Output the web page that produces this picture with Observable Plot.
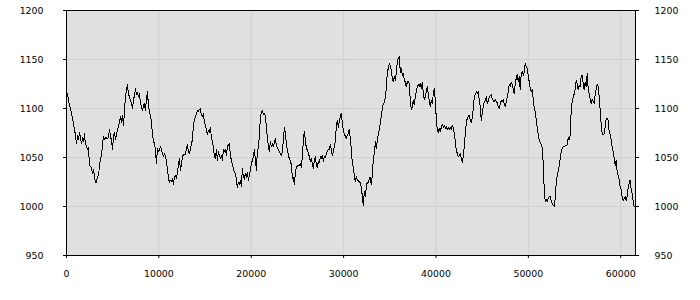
<!DOCTYPE html>
<html><head><meta charset="utf-8">
<script src="https://cdn.jsdelivr.net/npm/d3@7"></script>
<script src="https://cdn.jsdelivr.net/npm/@observablehq/plot@0.6"></script>
<style>body{margin:0;background:#fff}</style>
</head><body><div id="chart"></div>
<script>
// sampling interval of the series (x units per sample)
const sampleInterval = 108.2;
const values = [
1113,1115,1108,1104,1100,1095,1090,1085,1078,1073,
1064,1072,1068,1076,1070,1064,1070,1066,1074,1063,
1062,1058,1060,1042,1041,1039,1034,1038,1030,1024,
1025,1030,1032,1041,1050,1051,1064,1071,1068,1070,
1070,1069,1071,1079,1071,1068,1058,1071,1076,1068,
1073,1078,1082,1086,1092,1086,1093,1083,1097,1112,
1119,1124,1115,1112,1108,1105,1100,1108,1114,1120,
1114,1116,1112,1115,1105,1102,1098,1103,1105,1098,
1110,1117,1103,1097,1093,1086,1074,1066,1065,1058,
1044,1059,1056,1058,1061,1058,1054,1051,1054,1052,
1046,1037,1030,1024,1027,1025,1029,1022,1030,1032,
1029,1035,1042,1049,1037,1042,1051,1053,1053,1053,
1059,1063,1056,1054,1059,1064,1068,1083,1088,1092,
1095,1098,1097,1099,1100,1093,1092,1095,1086,1083,
1078,1073,1078,1075,1081,1070,1066,1061,1051,1049,
1058,1047,1056,1052,1049,1052,1047,1058,1056,1058,
1052,1061,1063,1064,1052,1047,1042,1039,1035,1034,
1027,1019,1025,1022,1027,1020,1039,1030,1028,1034,
1030,1035,1027,1032,1037,1044,1047,1051,1058,1047,
1037,1058,1059,1074,1090,1097,1098,1094,1095,1093,
1080,1070,1061,1056,1066,1061,1064,1061,1066,1069,
1063,1059,1058,1056,1054,1052,1056,1068,1081,1074,
1064,1058,1052,1049,1047,1042,1029,1030,1022,1034,
1040,1041,1042,1042,1044,1040,1051,1068,1077,1068,
1059,1058,1054,1051,1046,1049,1044,1039,1047,1051,
1042,1040,1046,1045,1051,1049,1052,1046,1051,1050,
1054,1056,1058,1058,1063,1058,1052,1056,1061,1066,
1083,1088,1081,1088,1092,1095,1085,1078,1073,1072,
1069,1073,1075,1079,1069,1058,1044,1040,1032,1025,
1031,1027,1026,1025,1024,1020,1010,1001,1015,1010,
1020,1025,1024,1029,1030,1022,1032,1049,1054,1066,
1059,1068,1074,1078,1086,1092,1100,1105,1106,1112,
1120,1137,1141,1146,1144,1139,1131,1127,1133,1129,
1136,1148,1152,1153,1137,1141,1134,1136,1129,1127,
1122,1127,1128,1125,1108,1099,1102,1108,1104,1112,
1117,1122,1125,1122,1126,1120,1127,1115,1109,1112,
1117,1122,1115,1108,1102,1108,1105,1115,1120,1108,
1090,1078,1075,1080,1076,1081,1084,1081,1083,1080,
1082,1078,1081,1078,1081,1078,1083,1080,1075,1066,
1058,1054,1051,1052,1054,1049,1045,1051,1061,1074,
1085,1090,1092,1093,1088,1086,1090,1100,1112,1114,
1117,1115,1117,1108,1102,1088,1095,1102,1107,1108,
1112,1105,1108,1112,1113,1114,1110,1108,1107,1109,
1107,1106,1102,1100,1105,1108,1107,1109,1105,1102,
1107,1112,1117,1125,1122,1127,1124,1120,1115,1125,
1131,1135,1127,1133,1119,1136,1138,1134,1137,1146,
1143,1141,1134,1127,1120,1117,1119,1110,1100,1097,
1088,1080,1073,1068,1065,1063,1060,1044,1017,1005,
1007,1005,1008,1010,1010,1006,1003,1001,1000,1008,
1024,1032,1036,1042,1049,1056,1059,1061,1061,1062,
1062,1063,1070,1068,1073,1098,1107,1112,1115,1120,
1129,1125,1119,1124,1122,1133,1134,1125,1119,1127,
1122,1136,1120,1115,1110,1105,1109,1107,1105,1115,
1120,1125,1122,1112,1098,1083,1074,1073,1074,1081,
1090,1090,1088,1076,1073,1068,1060,1056,1049,1042,
1047,1035,1032,1027,1020,1017,1010,1006,1008,1010,
1006,1010,1020,1024,1027,1017,1013,1005,1000
];
const xTicks = [0, 10000, 20000, 30000, 40000, 50000, 60000];
const yTicks = [950, 1000, 1050, 1100, 1150, 1200];
const xDomain = [0, 61600];
const yDomain = [950, 1200];

const data = values.map((v, i) => ({t: i * sampleInterval, v}));
const fmt = d3.format("d");

const chart = Plot.plot({
  width: 700, height: 300,
  marginLeft: 66, marginRight: 65, marginTop: 10, marginBottom: 45,
  style: {fontFamily: "DejaVu Sans", fontSize: "9.4px", color: "#000", background: "#fff"},
  x: {domain: xDomain},
  y: {domain: yDomain},
  marks: [
    Plot.frame({fill: "#e0e0e0"}),
    Plot.gridX(xTicks, {stroke: "#d0d0d0", strokeOpacity: 1}),
    Plot.gridY(yTicks, {stroke: "#d0d0d0", strokeOpacity: 1}),
    Plot.line(data, {x: "t", y: "v", stroke: "#000", strokeWidth: 1, shapeRendering: "crispEdges"}),
    Plot.frame({stroke: "#000", strokeWidth: 1}),
    Plot.axisY(yTicks, {anchor: "left", tickSize: 3, tickPadding: 20, label: null, tickFormat: fmt, fill: "#000"}),
    Plot.axisY(yTicks, {anchor: "right", tickSize: 3, tickPadding: 16, label: null, tickFormat: fmt, fill: "#000"}),
    Plot.axisX(xTicks, {anchor: "bottom", tickSize: 3, tickPadding: 12, label: null, tickFormat: fmt, fill: "#000"})
  ]
});
document.getElementById("chart").appendChild(chart);
</script>
</body></html>
